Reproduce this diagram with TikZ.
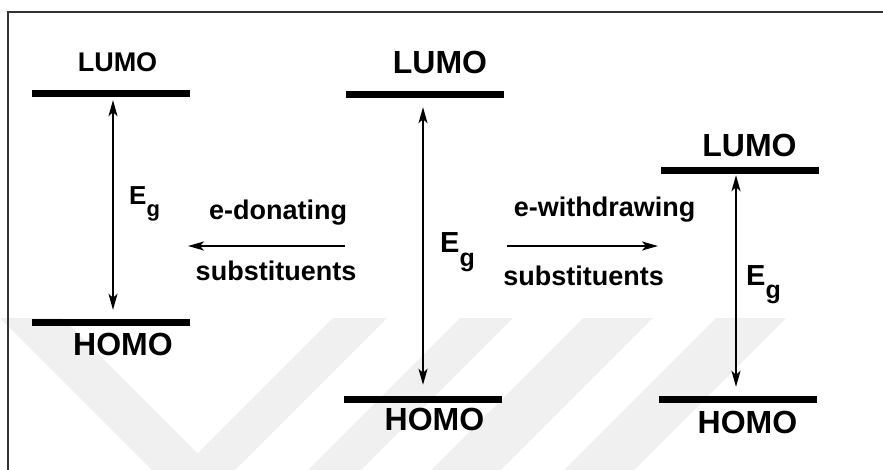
\documentclass[tikz,border=0pt]{standalone}
\usepackage{fontspec}
\setmainfont{Liberation Sans}
\usetikzlibrary{arrows.meta}
\newcommand\EgLabel[3]{{\fontsize{#1}{#1}\selectfont E\raisebox{-#3}{\fontsize{#2}{#2}\selectfont g}}}
\begin{document}
\begin{tikzpicture}[x=1pt,y=-1pt,
  bar/.style={rectangle,fill=black,minimum width=158pt,minimum height=7pt,inner sep=0pt},
  lbl/.style={font=\bfseries,inner sep=0pt,anchor=base},
  wm/.style={fill=black!6,draw=none},
  sarrow/.style={line width=1.7pt,-{Stealth[length=16pt,width=9pt,inset=4pt]}},
  dbl/.style={line width=1.7pt,{Stealth[length=16pt,width=9pt,inset=4pt]}-{Stealth[length=16pt,width=9pt,inset=4pt]}}]
\useasboundingbox (0,0) rectangle (883,470);
% watermark
\fill[wm] (0,318)--(62,318)--(197.5,453.5)--(333,318)--(387,318)--(235,470)--(152,470)--cycle;
\fill[wm] (460,318)--(513,318)--(361,470)--(308,470)--cycle;
\fill[wm] (583,318)--(653,318)--(501,470)--(431,470)--cycle;
\fill[wm] (716,318)--(786,318)--(634,470)--(564,470)--cycle;
% frame
\draw[line width=1.2pt,black!80] (8,470)--(8,12)--(883,12);
% bars
\node[bar] (LL) at (111,93.5) {};
\node[bar] (LH) at (111,322) {};
\node[bar] (CL) at (425,95) {};
\node[bar] (CH) at (423,399.5) {};
\node[bar] (RL) at (740,171) {};
\node[bar] (RH) at (738,399) {};
% level labels
\node[lbl,font=\bfseries\fontsize{27}{30}\selectfont] (tLL) at (117.5,72) {LUMO};
\node[lbl,font=\bfseries\fontsize{32}{34}\selectfont] (tCL) at (440,74) {LUMO};
\node[lbl,font=\bfseries\fontsize{32}{34}\selectfont] (tRL) at (749.5,157) {LUMO};
\node[lbl,font=\bfseries\fontsize{32}{34}\selectfont] (tLH) at (123,355) {HOMO};
\node[lbl,font=\bfseries\fontsize{32}{34}\selectfont] (tCH) at (434.5,430) {HOMO};
\node[lbl,font=\bfseries\fontsize{32}{34}\selectfont] (tRH) at (747.5,433) {HOMO};
% band gap arrows
\draw[dbl] ([xshift=2pt,yshift=-3pt]LL.south) -- ([xshift=2pt,yshift=8.5pt]LH.north);
\draw[dbl] ([xshift=-2pt,yshift=-8.5pt]CL.south) -- ([yshift=11pt]CH.north);
\draw[dbl] ([xshift=-4pt,yshift=-0.5pt]RL.south) -- ([xshift=-2pt,yshift=8.5pt]RH.north);
% Eg labels
\node[inner sep=0pt,anchor=base west,font=\bfseries] (eL) at (129,205) {\EgLabel{26}{22}{12pt}};
\node[inner sep=0pt,anchor=base west,font=\bfseries] (eC) at (440,253) {\EgLabel{29}{25}{13.5pt}};
\node[inner sep=0pt,anchor=base west,font=\bfseries] (eR) at (746,285) {\EgLabel{29}{25}{13.5pt}};
% substituent arrows
\coordinate (dS) at (345,246);
\coordinate (dE) at (188,246);
\coordinate (wS) at (507,246);
\coordinate (wE) at (658,246);
\draw[sarrow] (dS) -- (dE);
\draw[sarrow] (wS) -- (wE);
\node[lbl,font=\bfseries\fontsize{27}{30}\selectfont] (don) at (278,220) {e-donating};
\node[lbl,font=\bfseries\fontsize{27}{30}\selectfont] (sub1) at (276,280) {substituents};
\node[lbl,font=\bfseries\fontsize{27}{30}\selectfont] (wd) at (604.5,217) {e-withdrawing};
\node[lbl,font=\bfseries\fontsize{27}{30}\selectfont] (sub2) at (583.5,286) {substituents};
\end{tikzpicture}
\end{document}
